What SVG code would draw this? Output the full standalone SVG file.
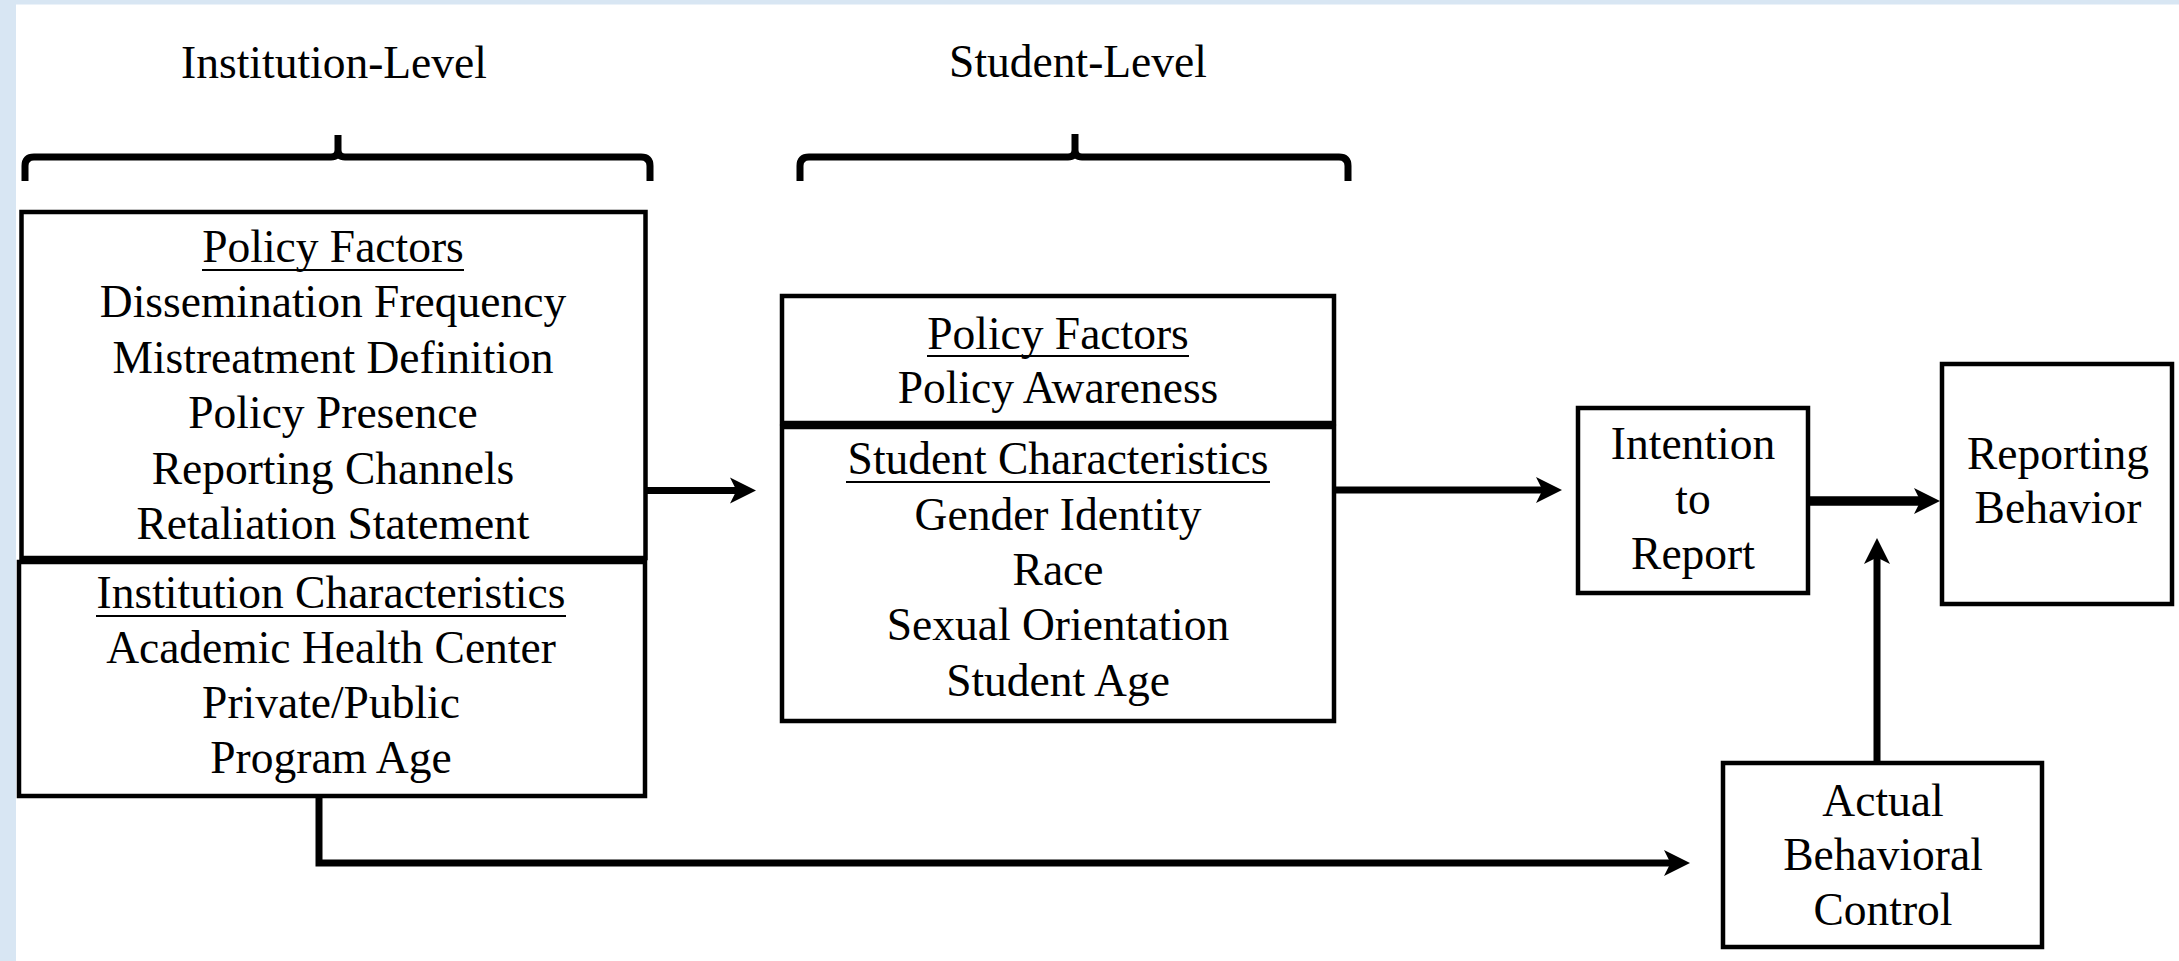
<svg xmlns="http://www.w3.org/2000/svg" width="2179" height="961" viewBox="0 0 2179 961">
  <defs>
    <style>
      text { font-family: "Liberation Serif", "Times New Roman", serif; font-size: 45.5px; fill: #000; text-anchor: middle; }
      .box { fill: #fff; stroke: #000; stroke-width: 4.5; }
      .ul { stroke: #000; stroke-width: 2.2; }
      .brace { fill: none; stroke: #000; stroke-width: 7; stroke-linejoin: round; }
      .conn { fill: none; stroke: #000; stroke-width: 7; stroke-linejoin: miter; stroke-linecap: butt; }
      .thick { stroke-width: 9.5; }
    </style>
    <marker id="arrow" markerUnits="userSpaceOnUse" markerWidth="28" markerHeight="30" viewBox="0 -15 28 30" refX="9" refY="0" orient="auto" overflow="visible">
      <path d="M0,-13 L26,0 L0,13 L6.5,0 Z" fill="#000"/>
    </marker>
  </defs>

  <!-- page -->
  <rect x="0" y="0" width="2179" height="961" fill="#fff"/>
  <rect x="0" y="0" width="2179" height="4.5" fill="#d8e6f3"/>
  <rect x="0" y="0" width="16" height="961" fill="#d8e6f3"/>

  <!-- level headers -->
  <g id="institution-level">
    <text x="334" y="78">Institution-Level</text>
    <path class="brace" d="M25,181 V166 Q25,157 34,157 H331 Q338,157 338,150 V135 M338,150 Q338,157 345,157 H641 Q650,157 650,166 V181"/>
  </g>
  <g id="student-level">
    <text x="1078" y="77">Student-Level</text>
    <path class="brace" d="M800,181 V166 Q800,157 809,157 H1068 Q1075,157 1075,150 V134 M1075,150 Q1075,157 1082,157 H1339 Q1348,157 1348,166 V181"/>
  </g>

  <!-- institution policy factors -->
  <g id="inst-policy">
    <rect class="box" x="21.5" y="212" width="624" height="346"/>
    <text x="333" y="262">Policy Factors</text>
    <line class="ul" x1="202" y1="270" x2="464" y2="270"/>
    <text x="333" y="317">Dissemination Frequency</text>
    <text x="333" y="373">Mistreatment Definition</text>
    <text x="333" y="428">Policy Presence</text>
    <text x="333" y="484">Reporting Channels</text>
    <text x="333" y="539">Retaliation Statement</text>
  </g>

  <!-- institution characteristics -->
  <g id="inst-char">
    <rect class="box" x="19" y="562" width="626" height="234"/>
    <text x="331" y="608">Institution Characteristics</text>
    <line class="ul" x1="96" y1="616" x2="566" y2="616"/>
    <text x="331" y="663">Academic Health Center</text>
    <text x="331" y="718">Private/Public</text>
    <text x="331" y="773">Program Age</text>
  </g>

  <!-- student policy factors -->
  <g id="student-policy">
    <rect class="box" x="782" y="296" width="552" height="127"/>
    <text x="1058" y="349">Policy Factors</text>
    <line class="ul" x1="927" y1="356" x2="1189" y2="356"/>
    <text x="1058" y="403">Policy Awareness</text>
  </g>

  <!-- student characteristics -->
  <g id="student-char">
    <rect class="box" x="782" y="427" width="552" height="294"/>
    <text x="1058" y="474">Student Characteristics</text>
    <line class="ul" x1="846" y1="482" x2="1270" y2="482"/>
    <text x="1058" y="530">Gender Identity</text>
    <text x="1058" y="585">Race</text>
    <text x="1058" y="640">Sexual Orientation</text>
    <text x="1058" y="696">Student Age</text>
  </g>

  <!-- intention -->
  <g id="intention">
    <rect class="box" x="1578" y="408" width="230" height="185"/>
    <text x="1693" y="459">Intention</text>
    <text x="1693" y="514">to</text>
    <text x="1693" y="569">Report</text>
  </g>

  <!-- reporting behavior -->
  <g id="reporting">
    <rect class="box" x="1942" y="364" width="230" height="240"/>
    <text x="2058" y="469">Reporting</text>
    <text x="2058" y="523">Behavior</text>
  </g>

  <!-- actual behavioral control -->
  <g id="abc">
    <rect class="box" x="1723" y="763" width="319" height="184"/>
    <text x="1883" y="816">Actual</text>
    <text x="1883" y="870">Behavioral</text>
    <text x="1883" y="925">Control</text>
  </g>

  <!-- connectors -->
  <g id="connectors">
    <path class="conn" d="M645.5,490.5 H739" marker-end="url(#arrow)"/>
    <path class="conn" d="M1334,490 H1545" marker-end="url(#arrow)"/>
    <path class="conn thick" d="M1808,501 H1923" marker-end="url(#arrow)"/>
    <path class="conn" d="M1877,763 V555" marker-end="url(#arrow)"/>
    <path class="conn" d="M319,796 V863 H1673" marker-end="url(#arrow)"/>
  </g>
</svg>
